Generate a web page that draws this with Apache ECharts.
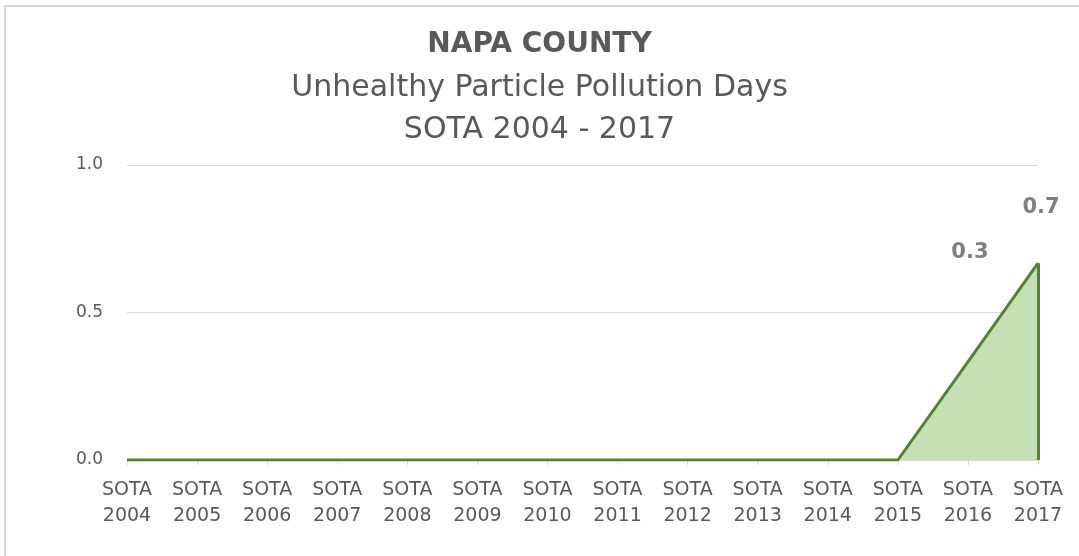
<!DOCTYPE html>
<html>
<head>
<meta charset="utf-8">
<script src="https://cdn.jsdelivr.net/npm/echarts@6/dist/echarts.min.js"></script>
<style>
  html, body { margin: 0; padding: 0; background: #fff; }
  #chart { width: 1079px; height: 556px; }
</style>
</head>
<body>
<div id="chart"></div>
<script>
// 数据
const years = ['2004', '2005', '2006', '2007', '2008', '2009', '2010', '2011', '2012', '2013', '2014', '2015', '2016', '2017']
const categories = years.map(y => 'SOTA\n' + y)
const days = [0, 0, 0, 0, 0, 0, 0, 0, 0, 0, 0, 0, 0.333, 0.667]
const labelled = ['2016', '2017']
const yTicks = [0, 0.5, 1.0]

const textColor = '#595959'
const font = '"DejaVu Sans", sans-serif'

const chart = echarts.init(document.getElementById('chart'))

const seriesData = days.map((v, i) => {
  const item = { value: v }
  if (labelled.includes(years[i])) {
    item.label = {
      show: true,
      offset: years[i] === '2016' ? [2, -94] : [3, -40]
    }
  }
  return item
})

const last = categories.length - 1

chart.setOption({
  backgroundColor: '#fff',
  animation: false,
  title: [{
    text: 'NAPA COUNTY',
    left: 'center',
    top: 26,
    textStyle: { color: textColor, fontSize: 28, fontWeight: 'bold', fontFamily: font }
  }, {
    text: 'Unhealthy Particle Pollution Days\nSOTA 2004 - 2017',
    left: 'center',
    top: 62,
    textStyle: { color: textColor, fontSize: 30, fontWeight: 'normal', fontFamily: font, lineHeight: 42 }
  }],
  graphic: [{
    type: 'line',
    shape: { x1: 4, y1: 6, x2: 1079, y2: 6 },
    style: { stroke: '#d9d9d9', lineWidth: 2 }
  }, {
    type: 'line',
    shape: { x1: 5, y1: 6, x2: 5, y2: 556 },
    style: { stroke: '#d9d9d9', lineWidth: 2 }
  }],
  grid: {
    left: 127,
    right: 41,
    top: 165,
    bottom: 96
  },
  xAxis: {
    type: 'category',
    boundaryGap: false,
    data: categories,
    axisLine: { lineStyle: { color: '#d9d9d9' } },
    axisTick: { show: true, length: 5, lineStyle: { color: '#d9d9d9' } },
    axisLabel: {
      interval: 0,
      color: textColor,
      fontSize: 19,
      fontFamily: font,
      lineHeight: 26,
      margin: 17
    }
  },
  yAxis: {
    type: 'value',
    min: 0,
    max: 1,
    interval: 0.5,
    axisLine: { show: false },
    axisTick: { show: false },
    splitLine: { lineStyle: { color: '#d9d9d9' } },
    axisLabel: {
      color: textColor,
      fontSize: 17,
      fontFamily: font,
      margin: 24,
      formatter: v => yTicks.includes(v) ? v.toFixed(1) : ''
    }
  },
  series: [{
    type: 'line',
    data: seriesData,
    symbol: 'circle',
    symbolSize: 0,
    itemStyle: { color: '#548235' },
    lineStyle: { color: '#548235', width: 3 },
    areaStyle: { color: '#c5e0b4', opacity: 1 },
    label: {
      position: 'top',
      color: '#7f7f7f',
      fontSize: 21,
      fontWeight: 'bold',
      fontFamily: font,
      formatter: p => p.value.toFixed(1)
    },
    markLine: {
      silent: true,
      symbol: 'none',
      label: { show: false },
      lineStyle: { color: '#548235', width: 3, type: 'solid' },
      data: [[
        { coord: [categories[last], 0] },
        { coord: [categories[last], days[last]] }
      ]]
    }
  }]
})
</script>
</body>
</html>
